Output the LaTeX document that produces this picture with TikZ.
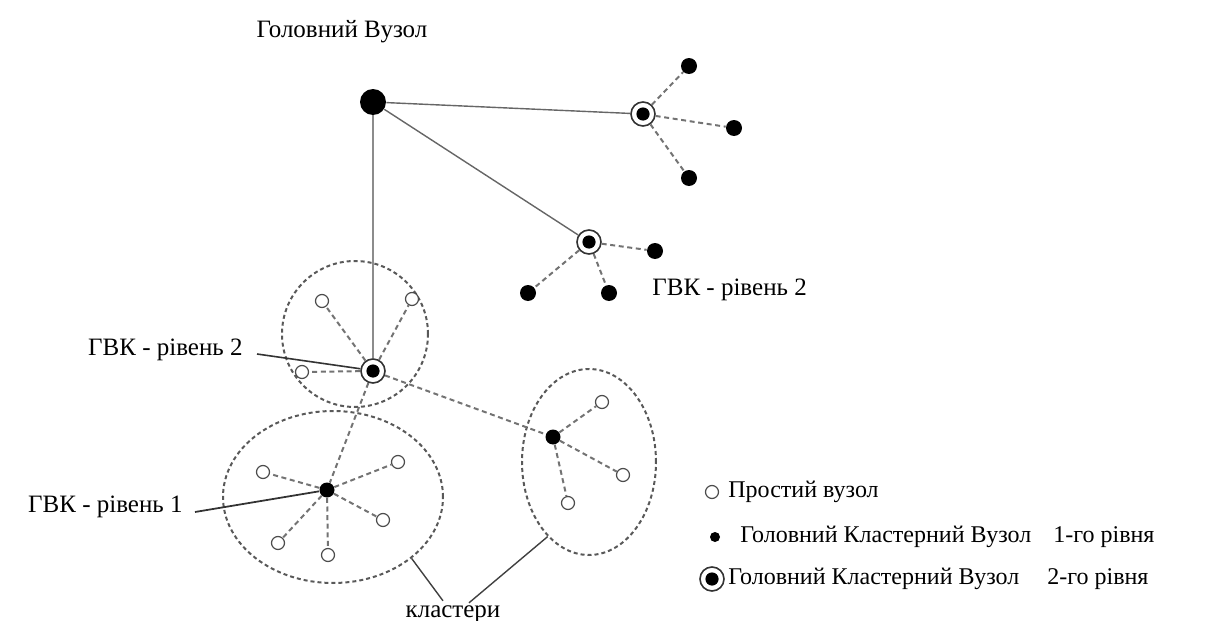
\documentclass[tikz,border=0pt]{standalone}
\usepackage{fontspec}
\setmainfont{Liberation Serif}
\newfontfamily\capfont{Liberation Serif}
\usetikzlibrary{shapes.geometric}
\tikzset{
 head/.style={circle,fill=black,inner sep=0pt,minimum size=13pt},
 simple/.style={circle,draw=black!70,line width=0.6pt,fill=white,inner sep=0pt,minimum size=6.5pt},
 lvlone/.style={circle,fill=black,inner sep=0pt,minimum size=7.5pt},
 leaf/.style={circle,fill=black,inner sep=0pt,minimum size=8pt},
 lvltwo/.style={circle,draw=black!80,line width=0.8pt,fill=white,inner sep=0pt,minimum size=12pt,
   path picture={\fill[black] (path picture bounding box.center) circle (3.3pt);}},
 cluster/.style={ellipse,draw=black!65,line width=1pt,dash pattern=on 2pt off 1.5pt,inner sep=0pt},
 link/.style={draw=black!55,line width=1pt,dash pattern=on 2.5pt off 1.8pt},
 trunk/.style={draw=black!60,line width=0.7pt},
 lbl/.style={font=\capfont\fontsize{12.5}{15}\selectfont,inner sep=0pt},
 legend/.style={font=\capfont\fontsize{12}{14}\selectfont,inner sep=0pt,anchor=west}
}
\begin{document}
\begin{tikzpicture}[x=0.5pt,y=-0.5pt]
 \useasboundingbox (0,0) rectangle (1223,621);
 \node[cluster,minimum width=73pt,minimum height=73pt] (clA) at (355,334) {};
 \node[cluster,minimum width=110pt,minimum height=86pt] (clB) at (333,497) {};
 \node[cluster,minimum width=67pt,minimum height=93pt] (clC) at (589,462) {};

 \node[head] (H) at (373,102) {};
 \node[lvltwo] (R1) at (643,114) {};
 \node[lvltwo] (R2) at (589,242) {};
 \node[lvltwo] (R3) at (373,371) {};
 \node[lvlone] (A1) at (327,490) {};
 \node[lvlone] (C1) at (553,437) {};

 \node[leaf] (r1a) at (689,66) {};
 \node[leaf] (r1b) at (734,128) {};
 \node[leaf] (r1c) at (689,178) {};
 \node[leaf] (r2a) at (655,251) {};
 \node[leaf] (r2b) at (528,293) {};
 \node[leaf] (r2c) at (609,293) {};

 \node[simple] (r3a) at (322,301) {};
 \node[simple] (r3b) at (412,299) {};
 \node[simple] (r3c) at (302,372) {};
 \node[simple] (a1a) at (263,472) {};
 \node[simple] (a1b) at (398,462) {};
 \node[simple] (a1c) at (383,520) {};
 \node[simple] (a1d) at (278,543) {};
 \node[simple] (a1e) at (328,555) {};
 \node[simple] (c1a) at (602,402) {};
 \node[simple] (c1b) at (623,475) {};
 \node[simple] (c1c) at (568,503) {};

 \draw[trunk] (H) -- (R1);
 \draw[trunk] (H) -- (R2);
 \draw[trunk,draw=black!45] (H) -- (R3);
 \foreach \n in {r1a,r1b,r1c} \draw[link] (R1) -- (\n);
 \foreach \n in {r2a,r2b,r2c} \draw[link] (R2) -- (\n);
 \foreach \n in {r3a,r3b,r3c,A1,C1} \draw[link] (R3) -- (\n);
 \foreach \n in {a1a,a1b,a1c,a1d,a1e} \draw[link] (A1) -- (\n);
 \foreach \n in {c1a,c1b,c1c} \draw[link] (C1) -- (\n);

 \node[lbl] (headtxt) at (342,32) {Головний Вузол};
 \node[lbl,anchor=west] (gvk2r) at (652,290) {ГВК - рівень 2};
 \node[lbl,anchor=east] (gvk2l) at (243,350) {ГВК - рівень 2};
 \node[lbl,anchor=east] (gvk1) at (183,507) {ГВК - рівень 1};
 \node[lbl,anchor=base] (kl) at (453,617) {кластери};
 \draw[black!80,line width=0.8pt] ([xshift=7pt,yshift=-2pt]gvk2l.east) -- (R3.170);
 \draw[black!80,line width=0.9pt] ([xshift=6pt,yshift=-2.5pt]gvk1.east) -- (A1);
 \draw[black!75,line width=0.7pt] (clB.-38) -- ([xshift=-5pt,yshift=2pt]kl.north);
 \draw[black!75,line width=0.7pt] (clC.241) -- ([xshift=8pt,yshift=1pt]kl.north);

 \node[simple] (lg1) at (712,492) {};
 \node[lvlone,minimum size=5pt] (lg2) at (715,537) {};
 \node[lvltwo] (lg3) at (712,579) {};
 \node[legend] (lt1) at (728,492) {Простий вузол};
 \node[legend] (lt2) at (740,537) {Головний Кластерний Вузол};
 \node[legend] (lt2b) at (1053,537) {1-го рівня};
 \node[legend] (lt3) at (728,579) {Головний Кластерний Вузол};
 \node[legend] (lt3b) at (1047,579) {2-го рівня};
\end{tikzpicture}
\end{document}
